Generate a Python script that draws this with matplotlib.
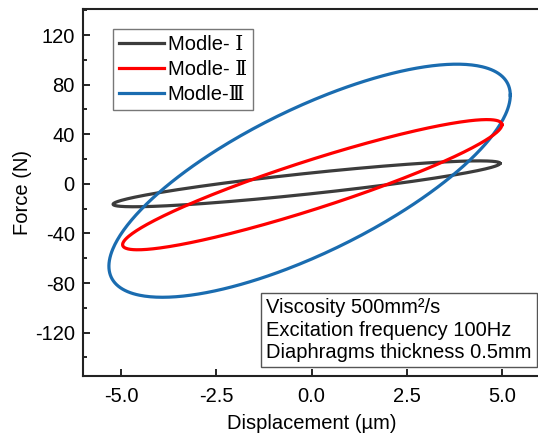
import numpy as np
import matplotlib
matplotlib.use("Agg")
from matplotlib import pyplot as plt

plt.rcParams['font.family'] = ['Liberation Sans', 'DejaVu Serif']
plt.rcParams['font.size'] = 14.5
plt.rcParams['axes.unicode_minus'] = False

# loop parameters
modelos = ['Modle- Ⅰ', 'Modle- Ⅱ', 'Modle-Ⅲ']
cores = ['#3c3c3c', '#ff0000', '#1a6cb0']
centro_x = [-0.13, 0.02, -0.05]       # µm
centro_f = [0.0, -0.7, 2.5]           # N
amp_desloc = [5.08, 4.98, 5.27]       # µm
amp_forca = [18.5, 52.5, 94.0]        # N
fase_graus = [27.0, 23.0, 42.8]       # lag between force and displacement

info = ['Viscosity 500mm²/s',
        'Excitation frequency 100Hz',
        'Diaphragms thickness 0.5mm']

fig = plt.figure(figsize=(5.38, 4.41), dpi=100)
ax = fig.add_axes([0.1543, 0.1474, 0.8494, 0.8322])

t = np.linspace(0, 2 * np.pi, 400)
linhas = {}
for i in [0, 2, 1]:  # blue under red, black at the bottom
    fase = np.radians(fase_graus[i])
    x = centro_x[i] + amp_desloc[i] * np.cos(t)
    y = centro_f[i] + amp_forca[i] * np.cos(t - fase)
    linhas[i], = ax.plot(x, y, color=cores[i], lw=2.3, label=modelos[i])

leg = ax.legend([linhas[0], linhas[1], linhas[2]], modelos,
                loc='upper left', bbox_to_anchor=(0.066, 0.945),
                borderaxespad=0, fancybox=False, handlelength=2.2,
                handletextpad=0.2, labelspacing=0.3, borderpad=0.3,
                fontsize=14.5)
leg.get_frame().set_edgecolor('#555555')
leg.get_frame().set_linewidth(1.0)

ax.text(0.401, 0.037, '\n'.join(info), transform=ax.transAxes,
        fontsize=14.5, va='bottom', ha='left', linespacing=1.25,
        bbox=dict(boxstyle='square,pad=0.25', fc='white', ec='#555555', lw=1.0))

ax.set_xlim(-6, 6)
ax.set_ylim(-155, 141)
ax.set_xticks([-5, -2.5, 0, 2.5, 5])
ax.set_xticklabels(['-5.0', '-2.5', '0.0', '2.5', '5.0'])
ax.set_yticks([-120, -80, -40, 0, 40, 80, 120])
ax.set_yticks(np.arange(-140, 141, 40), minor=True)
ax.tick_params(direction='in', length=5, width=1.2, pad=6)
ax.tick_params(which='minor', direction='in', length=3, width=1.2)
ax.tick_params(axis='x', pad=8)

for s in ax.spines.values():
    s.set_linewidth(1.5)
    s.set_color('#222222')

ax.set_xlabel('Displacement (µm)', fontsize=14.5, labelpad=6)
ax.set_ylabel('Force (N)', fontsize=14.5, labelpad=2)

fig.savefig('out.png', dpi=100)
